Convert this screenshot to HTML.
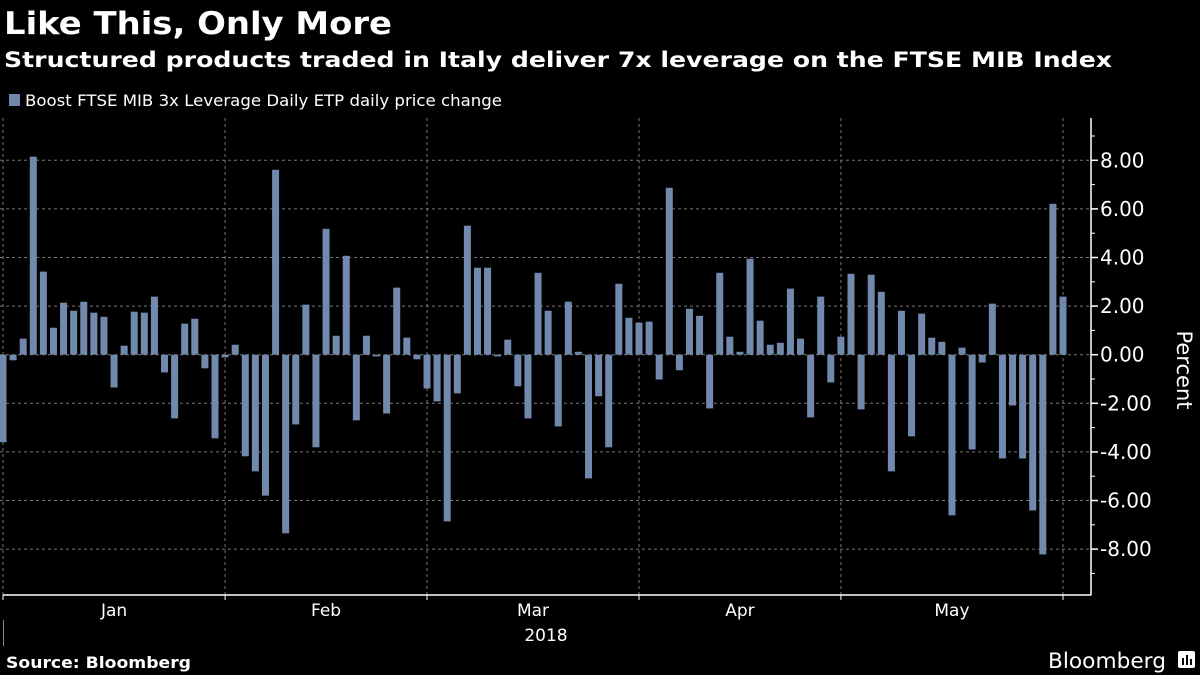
<!DOCTYPE html>
<html><head><meta charset="utf-8"><style>
html,body{margin:0;padding:0;background:#000;}
svg{display:block;}
text{font-family:"DejaVu Sans","Liberation Sans",sans-serif;fill:#fff;}
</style></head><body>
<svg id="chart" width="1200" height="675" viewBox="0 0 1200 675">
<text x="4" y="34" font-size="31" font-weight="bold" textLength="388" lengthAdjust="spacingAndGlyphs">Like This, Only More</text>
<text x="4" y="67" font-size="21" font-weight="bold" textLength="1108" lengthAdjust="spacingAndGlyphs">Structured products traded in Italy deliver 7x leverage on the FTSE MIB Index</text>
<rect x="9" y="94" width="11" height="12" fill="#7189ac"/>
<text x="25" y="106" font-size="16" textLength="477" lengthAdjust="spacingAndGlyphs">Boost FTSE MIB 3x Leverage Daily ETP daily price change</text>
<g id="grid"></g><g id="bars"></g><g id="axes"></g>
<text transform="translate(1177,370) rotate(90)" font-size="21" text-anchor="middle">Percent</text>
<line x1="3.5" y1="620" x2="3.5" y2="646" stroke="#888" stroke-width="1"/>
<text x="546" y="641" font-size="17" text-anchor="middle">2018</text>
<text x="6" y="668" font-size="16" font-weight="bold" textLength="185" lengthAdjust="spacingAndGlyphs">Source: Bloomberg</text>
<text x="1048" y="668" font-size="21" textLength="118" lengthAdjust="spacingAndGlyphs">Bloomberg</text>
<g><rect x="1178" y="651" width="17" height="17" rx="2" fill="#fff"/><rect x="1182" y="658" width="2" height="7" fill="#000"/><rect x="1186" y="655" width="2" height="10" fill="#000"/><rect x="1190" y="659" width="2" height="6" fill="#000"/></g>
</svg>
<script>
const values=[-3.6,-0.23,0.66,8.15,3.42,1.11,2.14,1.81,2.18,1.73,1.56,-1.35,0.37,1.77,1.73,2.39,-0.73,-2.62,1.28,1.48,-0.56,-3.44,-0.11,0.41,-4.18,-4.8,-5.8,7.61,-7.35,-2.87,2.06,-3.81,5.18,0.78,4.07,-2.7,
0.78,-0.07,-2.42,2.76,0.7,-0.19,-1.39,-1.92,-6.86,-1.59,5.31,3.58,3.58,-0.07,0.62,-1.3,-2.62,3.37,1.81,-2.95,2.18,0.12,-5.09,-1.71,-3.81,2.92,1.52,1.32,1.36,-1.02,6.87,-0.64,1.89,1.6,-2.21,
3.37,0.74,0.12,3.95,1.4,0.41,0.49,2.72,0.66,-2.58,2.39,-1.14,0.74,3.33,-2.25,3.29,2.59,-4.8,1.81,-3.36,1.69,0.7,0.53,-6.61,0.29,-3.9,-0.32,2.1,-4.27,-2.09,-4.27,-6.41,-8.22,6.21,2.39];
const monthLabels=["Jan","Feb","Mar","Apr","May"];
const monthStarts=[0,22,42,63,83,105];
const yTicks=[8,6,4,2,0,-2,-4,-6,-8];
const yMinor=[9,7,5,3,1,-1,-3,-5,-7,-9];
const NS="http://www.w3.org/2000/svg";
const x0=3,step=(1063-3)/(values.length-1),bw=7;
const xs=i=>x0+i*step;
const ys=v=>354.7-v*24.3;
function mk(t,a,p){const e=document.createElementNS(NS,t);for(const k in a)e.setAttribute(k,a[k]);p.appendChild(e);return e;}
const grid=document.getElementById('grid'),bars=document.getElementById('bars'),axes=document.getElementById('axes');
yTicks.forEach(v=>{
  const l=mk('line',{x1:0,x2:1091,y1:ys(v),y2:ys(v),stroke:'#777','stroke-dasharray':'3,3','stroke-width':1},grid);
  
  
  const t=mk('line',{x1:1091,x2:1098,y1:ys(v),y2:ys(v),stroke:'#fff','stroke-width':1.5},axes);
  
  
  const tx=mk('text',{x:1100,y:ys(v)+7,'font-size':20},axes);
  tx.textContent=v.toFixed(2);
  
  
});
yMinor.forEach(v=>{
  const t=mk('line',{x1:1091,x2:1095,y1:ys(v),y2:ys(v),stroke:'#fff','stroke-width':1},axes);
  
  
});
monthStarts.forEach((m,k)=>{
  const x=xs(m);
  const l=mk('line',{x1:x,x2:x,y1:118,y2:595,stroke:'#777','stroke-dasharray':'3,3','stroke-width':1},grid);
  
  
  const t=mk('line',{x1:x,x2:x,y1:595,y2:600,stroke:'#fff','stroke-width':1},axes);
  
  
  if(k<monthLabels.length){
    const tx=mk('text',{x:(x+xs(monthStarts[k+1]))/2,y:616,'font-size':17,'text-anchor':'middle'},axes);
    tx.textContent=monthLabels[k];
    
    
  }
});
values.forEach((v,i)=>{
  const y=Math.min(ys(v),ys(0)),h=Math.abs(ys(v)-ys(0));
  const r=mk('rect',{x:xs(i)-bw/2,y:y,width:bw,height:Math.max(h,0.5),fill:'#7189ac'},bars);
  
  
});
const xa=mk('line',{x1:3,x2:1091.5,y1:595,y2:595,stroke:'#fff','stroke-width':1.5},axes);


const ya=mk('line',{x1:1091,x2:1091,y1:118,y2:595,stroke:'#fff','stroke-width':1.5},axes);


</script>
</body></html>
